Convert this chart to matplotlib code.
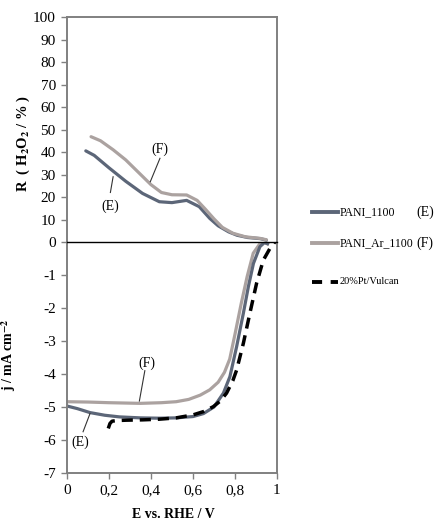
import matplotlib
matplotlib.use("Agg")
import matplotlib.pyplot as plt
from matplotlib.lines import Line2D

plt.rcParams['font.family'] = ['Liberation Serif', 'DejaVu Serif']
plt.rcParams['mathtext.fontset'] = 'stix'
plt.rcParams['axes.unicode_minus'] = False

# upper panel: R(H2O2) in %
e_r_x = [0.09, 0.13, 0.2, 0.28, 0.36, 0.44, 0.5, 0.57, 0.63, 0.68, 0.72, 0.77, 0.81, 0.86, 0.92, 0.95]
e_r_y = [40.5, 38.5, 33, 27, 21.6, 17.9, 17.5, 18.5, 15.7, 10.5, 7.2, 4.5, 3.0, 2.0, 1.5, 0.8]
f_r_x = [0.115, 0.16, 0.22, 0.28, 0.34, 0.4, 0.45, 0.5, 0.57, 0.62, 0.66, 0.70, 0.74, 0.79, 0.85, 0.92, 0.95]
f_r_y = [46.8, 45, 41, 36.5, 31, 25.5, 22, 21, 20.9, 18.5, 14.5, 10.3, 6.5, 3.9, 2.3, 1.6, 1.0]

# lower panel: j in mA cm-2
e_j_x = [0, 0.05, 0.11, 0.18, 0.25, 0.35, 0.44, 0.52, 0.6, 0.65, 0.7, 0.745, 0.776, 0.808, 0.84, 0.864, 0.888, 0.919, 0.94, 0.955]
e_j_y = [-4.97, -5.05, -5.17, -5.25, -5.3, -5.33, -5.34, -5.33, -5.29, -5.2, -5.0, -4.58, -4.08, -3.17, -2.16, -1.35, -0.65, -0.14, -0.02, -0.05]
f_j_x = [0, 0.1, 0.2, 0.35, 0.45, 0.52, 0.58, 0.635, 0.68, 0.72, 0.75, 0.775, 0.8, 0.83, 0.858, 0.887, 0.92, 0.94, 0.955]
f_j_y = [-4.84, -4.85, -4.87, -4.89, -4.87, -4.84, -4.77, -4.64, -4.48, -4.25, -3.95, -3.55, -2.8, -1.86, -1.05, -0.34, -0.04, 0.0, -0.06]
pt_x = [0.197, 0.205, 0.215, 0.24, 0.284, 0.36, 0.44, 0.52, 0.6, 0.65, 0.697, 0.73, 0.76, 0.79, 0.808, 0.84, 0.871, 0.903, 0.935, 0.967, 0.99]
pt_y = [-5.65, -5.5, -5.43, -5.41, -5.40, -5.39, -5.37, -5.33, -5.24, -5.14, -4.99, -4.82, -4.58, -4.2, -3.88, -3.07, -2.16, -1.25, -0.55, -0.19, 0.0]

x_ticks = [0, 0.2, 0.4, 0.6, 0.8, 1.0]
x_labels = ['0', '0,2', '0,4', '0,6', '0,8', '1']

col_e = '#5c6678'
col_f = '#aba2a0'
grey = '#808080'

fig = plt.figure(figsize=(4.46, 5.22), dpi=100)
ax1 = fig.add_axes([0.150, 0.5364, 0.471, 0.431])
ax2 = fig.add_axes([0.150, 0.0939, 0.471, 0.4425])

ax1.plot(e_r_x, e_r_y, color=col_e, lw=2.3, solid_capstyle='round')
ax1.plot(f_r_x, f_r_y, color=col_f, lw=2.3, solid_capstyle='round')
ax1.set_xlim(0, 1)
ax1.set_ylim(0, 100)
ax1.set_yticks(range(0, 101, 10))
ax1.set_xticks([])

ax2.plot(f_j_x, f_j_y, color=col_f, lw=2.3)
ax2.plot(e_j_x, e_j_y, color=col_e, lw=2.3)
ax2.plot(pt_x, pt_y, color='black', lw=2.5, dashes=(3.2, 2))
ax2.set_xlim(0, 1)
ax2.set_ylim(-7, 0)
ax2.set_yticks(range(-7, 0))
ax2.set_xticks(x_ticks)
ax2.set_xticklabels(x_labels)

for ax in (ax1, ax2):
    for s in ax.spines.values():
        s.set_color(grey)
        s.set_linewidth(1.4)
    ax.tick_params(direction='out', length=4, width=1, color=grey, labelsize=11, pad=4)
ax1.spines['bottom'].set_visible(False)
ax2.spines['top'].set_color('black')
ax2.spines['top'].set_linewidth(1.0)

ax1.set_ylabel(r'R  ( H$_\mathbf{2}$O$_\mathbf{2}$ / % )', fontsize=10.5, fontweight='bold')
ax1.yaxis.set_label_coords(-0.165, 0.44)
ax2.set_ylabel(r'j / mA cm$^{\mathbf{-2}}$', fontsize=10, fontweight='bold')
ax2.yaxis.set_label_coords(-0.235, 0.51)
ax2.set_xlabel('E vs. RHE / V', fontsize=10, fontweight='bold')
ax2.xaxis.set_label_coords(0.505, -0.15)

# annotations
ax1.text(0.443, 41, '(F)', fontsize=10, ha='center', va='center')
ax1.plot([0.443, 0.397], [37.2, 26.8], color='#333333', lw=0.8)
ax1.text(0.205, 15.7, '(E)', fontsize=10, ha='center', va='center')
ax1.plot([0.22, 0.207], [29, 22], color='#333333', lw=0.8)
ax2.text(0.38, -3.68, '(F)', fontsize=10, ha='center', va='center')
ax2.plot([0.371, 0.345], [-3.9, -4.82], color='#333333', lw=0.8)
ax2.text(0.062, -6.08, '(E)', fontsize=10, ha='center', va='center')
ax2.plot([0.11, 0.077], [-5.2, -5.75], color='#333333', lw=0.8)


# legend drawn in figure pixels
def fy(py):
    return 1 - py / 522


def fx(px):
    return px / 446


leg = [('PANI_1100', '(E)', 212, dict(color=col_e, lw=2.8)),
       ('PANI_Ar_1100', '(F)', 243, dict(color=col_f, lw=2.8)),
       ('20%Pt/Vulcan', '', 282, dict(color='black', lw=2.8, dashes=(2.6, 2.2)))]
for name, tag, py, style in leg:
    fig.add_artist(Line2D([fx(312), fx(338)], [fy(py), fy(py)], transform=fig.transFigure, **style))
    fs = 7.5 if tag == '' else 8.5
    fig.text(fx(340), fy(py), name, fontsize=fs, va='center', ha='left')
    if tag:
        fig.text(fx(416), fy(py), tag, fontsize=10, va='center', ha='left')

fig.savefig('out.png', dpi=100)
